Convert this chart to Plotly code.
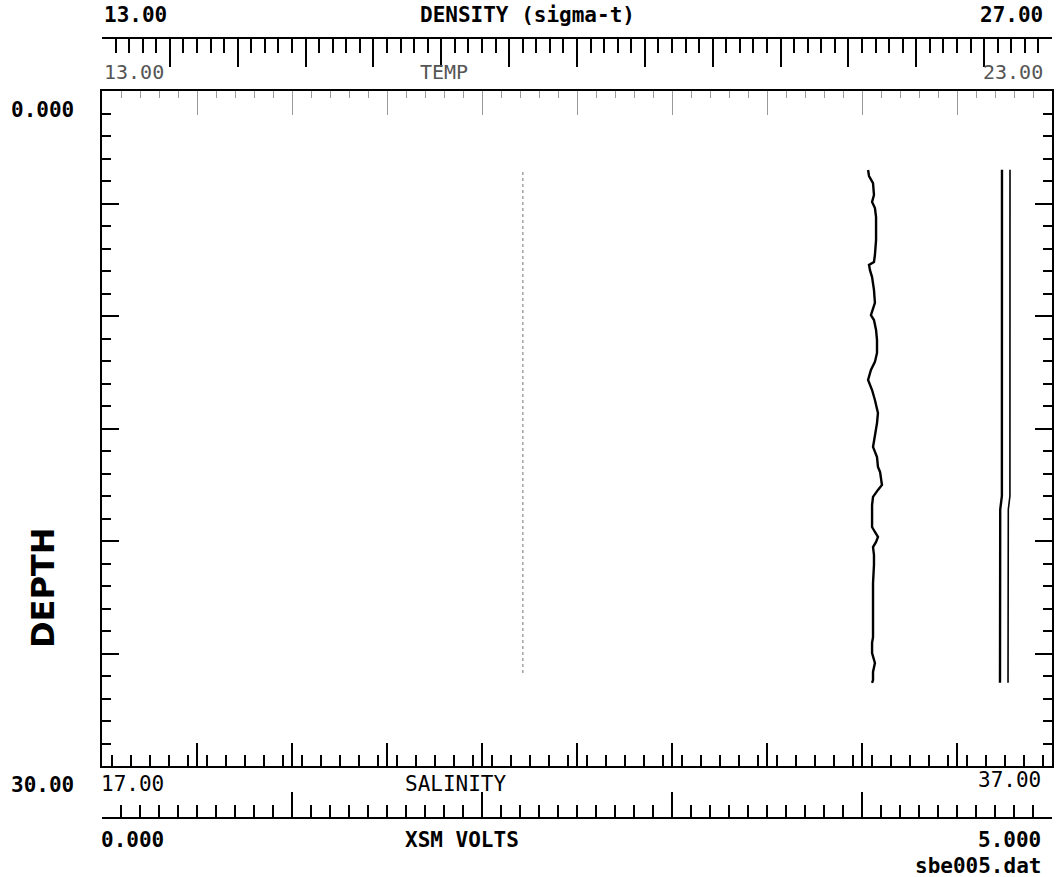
import plotly.graph_objects as go

# ---------------- data ----------------
volts_depth = [3.51, 3.78, 4.09, 4.62, 4.93, 5.20, 5.60, 6.62, 7.29, 7.60, 7.73, 7.96,
               8.27, 8.84, 9.42, 9.73, 9.96, 10.18, 10.62, 11.07, 11.64, 12.04, 12.40,
               12.84, 13.29, 13.73, 14.31, 14.76, 15.38, 15.82, 16.27, 16.71, 16.93,
               17.29, 17.51, 17.73, 18.04, 18.40, 19.07, 19.38, 19.60, 19.82, 20.04,
               20.27, 20.62, 21.07, 21.87, 22.62, 23.51, 24.27, 24.53, 24.98, 25.42,
               25.82, 26.18, 26.31]
xsm_volts = [4.032, 4.037, 4.058, 4.063, 4.053, 4.068, 4.074, 4.074, 4.068, 4.063, 4.037,
             4.042, 4.053, 4.063, 4.068, 4.058, 4.047, 4.063, 4.074, 4.079, 4.079, 4.068,
             4.047, 4.032, 4.053, 4.068, 4.084, 4.079, 4.068, 4.058, 4.079, 4.084, 4.095,
             4.100, 4.105, 4.084, 4.058, 4.053, 4.053, 4.053, 4.068, 4.084, 4.074, 4.058,
             4.063, 4.063, 4.058, 4.058, 4.058, 4.058, 4.053, 4.053, 4.068, 4.058, 4.058,
             4.053]

temp_depth = [3.6, 26.0]
temperature = [17.43, 17.43]

sal_depth = [3.5, 18.0, 18.6, 26.3]
salinity = [35.947, 35.945, 35.910, 35.905]

dens_depth = [3.5, 18.0, 18.6, 26.3]
density = [26.381, 26.380, 26.356, 26.352]

# axis ranges / labels
depth_range = [30.0, 0.0]
density_range = [13.0, 27.0]
temp_range = [13.0, 23.0]
salinity_range = [17.0, 37.0]
volts_range = [0.0, 5.0]

# ---------------- layout helpers ----------------
W, H = 1057, 877
X0, X1 = 102, 1052          # plot left/right (px)
Y_TOP, Y_BOT = 91, 766      # plot top/bottom (px)
Y_DENS, Y_VOLT = 38, 818    # free axis lines (px)


def px(x):
    return x / W


def py(y):
    return 1 - y / H


MONO = "DejaVu Sans Mono"

fig = go.Figure()

fig.add_trace(go.Scatter(x=temperature, y=temp_depth, xaxis="x4", yaxis="y",
                         mode="lines", line=dict(color="#8a8a8a", width=1.2, dash="dot"),
                         name="TEMP", showlegend=False))
fig.add_trace(go.Scatter(x=xsm_volts, y=volts_depth, xaxis="x2", yaxis="y",
                         mode="lines", line=dict(color="black", width=2.4),
                         name="XSM VOLTS", showlegend=False))
fig.add_trace(go.Scatter(x=salinity, y=sal_depth, xaxis="x", yaxis="y",
                         mode="lines", line=dict(color="black", width=2.4),
                         name="SALINITY", showlegend=False))
fig.add_trace(go.Scatter(x=density, y=dens_depth, xaxis="x3", yaxis="y",
                         mode="lines", line=dict(color="black", width=1.6),
                         name="DENSITY", showlegend=False))

common = dict(showgrid=False, zeroline=False, showticklabels=False,
              domain=[px(X0), px(X1)], fixedrange=True)

fig.update_layout(
    width=W, height=H,
    margin=dict(l=0, r=0, t=0, b=0),
    paper_bgcolor="white", plot_bgcolor="white",
    showlegend=False,
    yaxis=dict(range=depth_range, domain=[py(Y_BOT), py(Y_TOP)], anchor="x",
               showgrid=False, zeroline=False, showticklabels=False,
               showline=True, linecolor="black", linewidth=2, mirror="ticks",
               ticks="inside", tick0=0, dtick=5, ticklen=17, tickwidth=2, tickcolor="black",
               minor=dict(dtick=1, ticklen=9, tickwidth=2, tickcolor="black", ticks="inside"),
               fixedrange=True),
    # salinity (bottom of plot)
    xaxis=dict(range=salinity_range, anchor="y", side="bottom",
               showline=True, linecolor="black", linewidth=2,
               ticks="inside", tick0=17, dtick=2, ticklen=23, tickwidth=1.6, tickcolor="black",
               minor=dict(dtick=0.4, ticklen=11, tickwidth=1.6, tickcolor="black", ticks="inside"),
               **common),
    # xsm volts (free, lower)
    xaxis2=dict(range=volts_range, anchor="free", position=py(Y_VOLT), side="bottom",
                overlaying="x",
                showline=True, linecolor="black", linewidth=2,
                ticks="inside", tick0=0, dtick=1, ticklen=25, tickwidth=1.6, tickcolor="black",
                minor=dict(dtick=0.1, ticklen=12, tickwidth=1.6, tickcolor="black", ticks="inside"),
                **common),
    # density (free, top)
    xaxis3=dict(range=density_range, anchor="free", position=py(Y_DENS), side="top",
                overlaying="x",
                showline=True, linecolor="black", linewidth=2,
                ticks="inside", tick0=13, dtick=1, ticklen=28, tickwidth=1.8, tickcolor="black",
                minor=dict(dtick=0.2, ticklen=14, tickwidth=1.8, tickcolor="black", ticks="inside"),
                **common),
    # temperature (top of plot)
    xaxis4=dict(range=temp_range, anchor="y", side="top", overlaying="x",
                showline=True, linecolor="black", linewidth=2,
                ticks="inside", tick0=13, dtick=1, ticklen=24, tickwidth=1, tickcolor="#9a9a9a",
                minor=dict(dtick=0.2, ticklen=7, tickwidth=1, tickcolor="#9a9a9a", ticks="inside"),
                **common),
)


def label(text, x, y, xanchor="left", size=21, weight="bold", color="black", family=MONO,
          angle=0):
    fig.add_annotation(text=text, x=px(x), y=py(y), xref="paper", yref="paper",
                       xanchor=xanchor, yanchor="middle", showarrow=False, textangle=angle,
                       font=dict(family=family, size=size, color=color, weight=weight))


# density axis labels
label(f"{density_range[0]:.2f}", 102, 15)
label("DENSITY (sigma-t)", 418, 15)
label(f"{density_range[1]:.2f}", 1045, 15, xanchor="right")
# temperature axis labels
label(f"{temp_range[0]:.2f}", 102, 72, size=20, weight="normal", color="#555555")
label("TEMP", 418, 72, size=20, weight="normal", color="#555555")
label(f"{temp_range[1]:.2f}", 1045, 72, xanchor="right", size=20, weight="normal",
      color="#555555")
# depth labels
label(f"{depth_range[1]:.3f}", 76, 110, xanchor="right")
label(f"{depth_range[0]:.2f}", 76, 785, xanchor="right")
label("DEPTH", 43, 588, xanchor="center", size=32, family="DejaVu Sans", angle=-90)
# salinity axis labels
label(f"{salinity_range[0]:.2f}", 99, 784, size=21, weight="normal")
label("SALINITY", 403, 784, size=21, weight="normal")
label(f"{salinity_range[1]:.2f}", 1043, 780, xanchor="right", size=21, weight="normal")
# volts labels
label(f"{volts_range[0]:.3f}", 99, 840)
label("XSM VOLTS", 403, 840)
label(f"{volts_range[1]:.3f}", 1043, 840, xanchor="right")
label("sbe005.dat", 1043, 866, xanchor="right")

fig.write_html("out.html", config={"displayModeBar": False},
               post_script="document.body.style.margin='0';")
